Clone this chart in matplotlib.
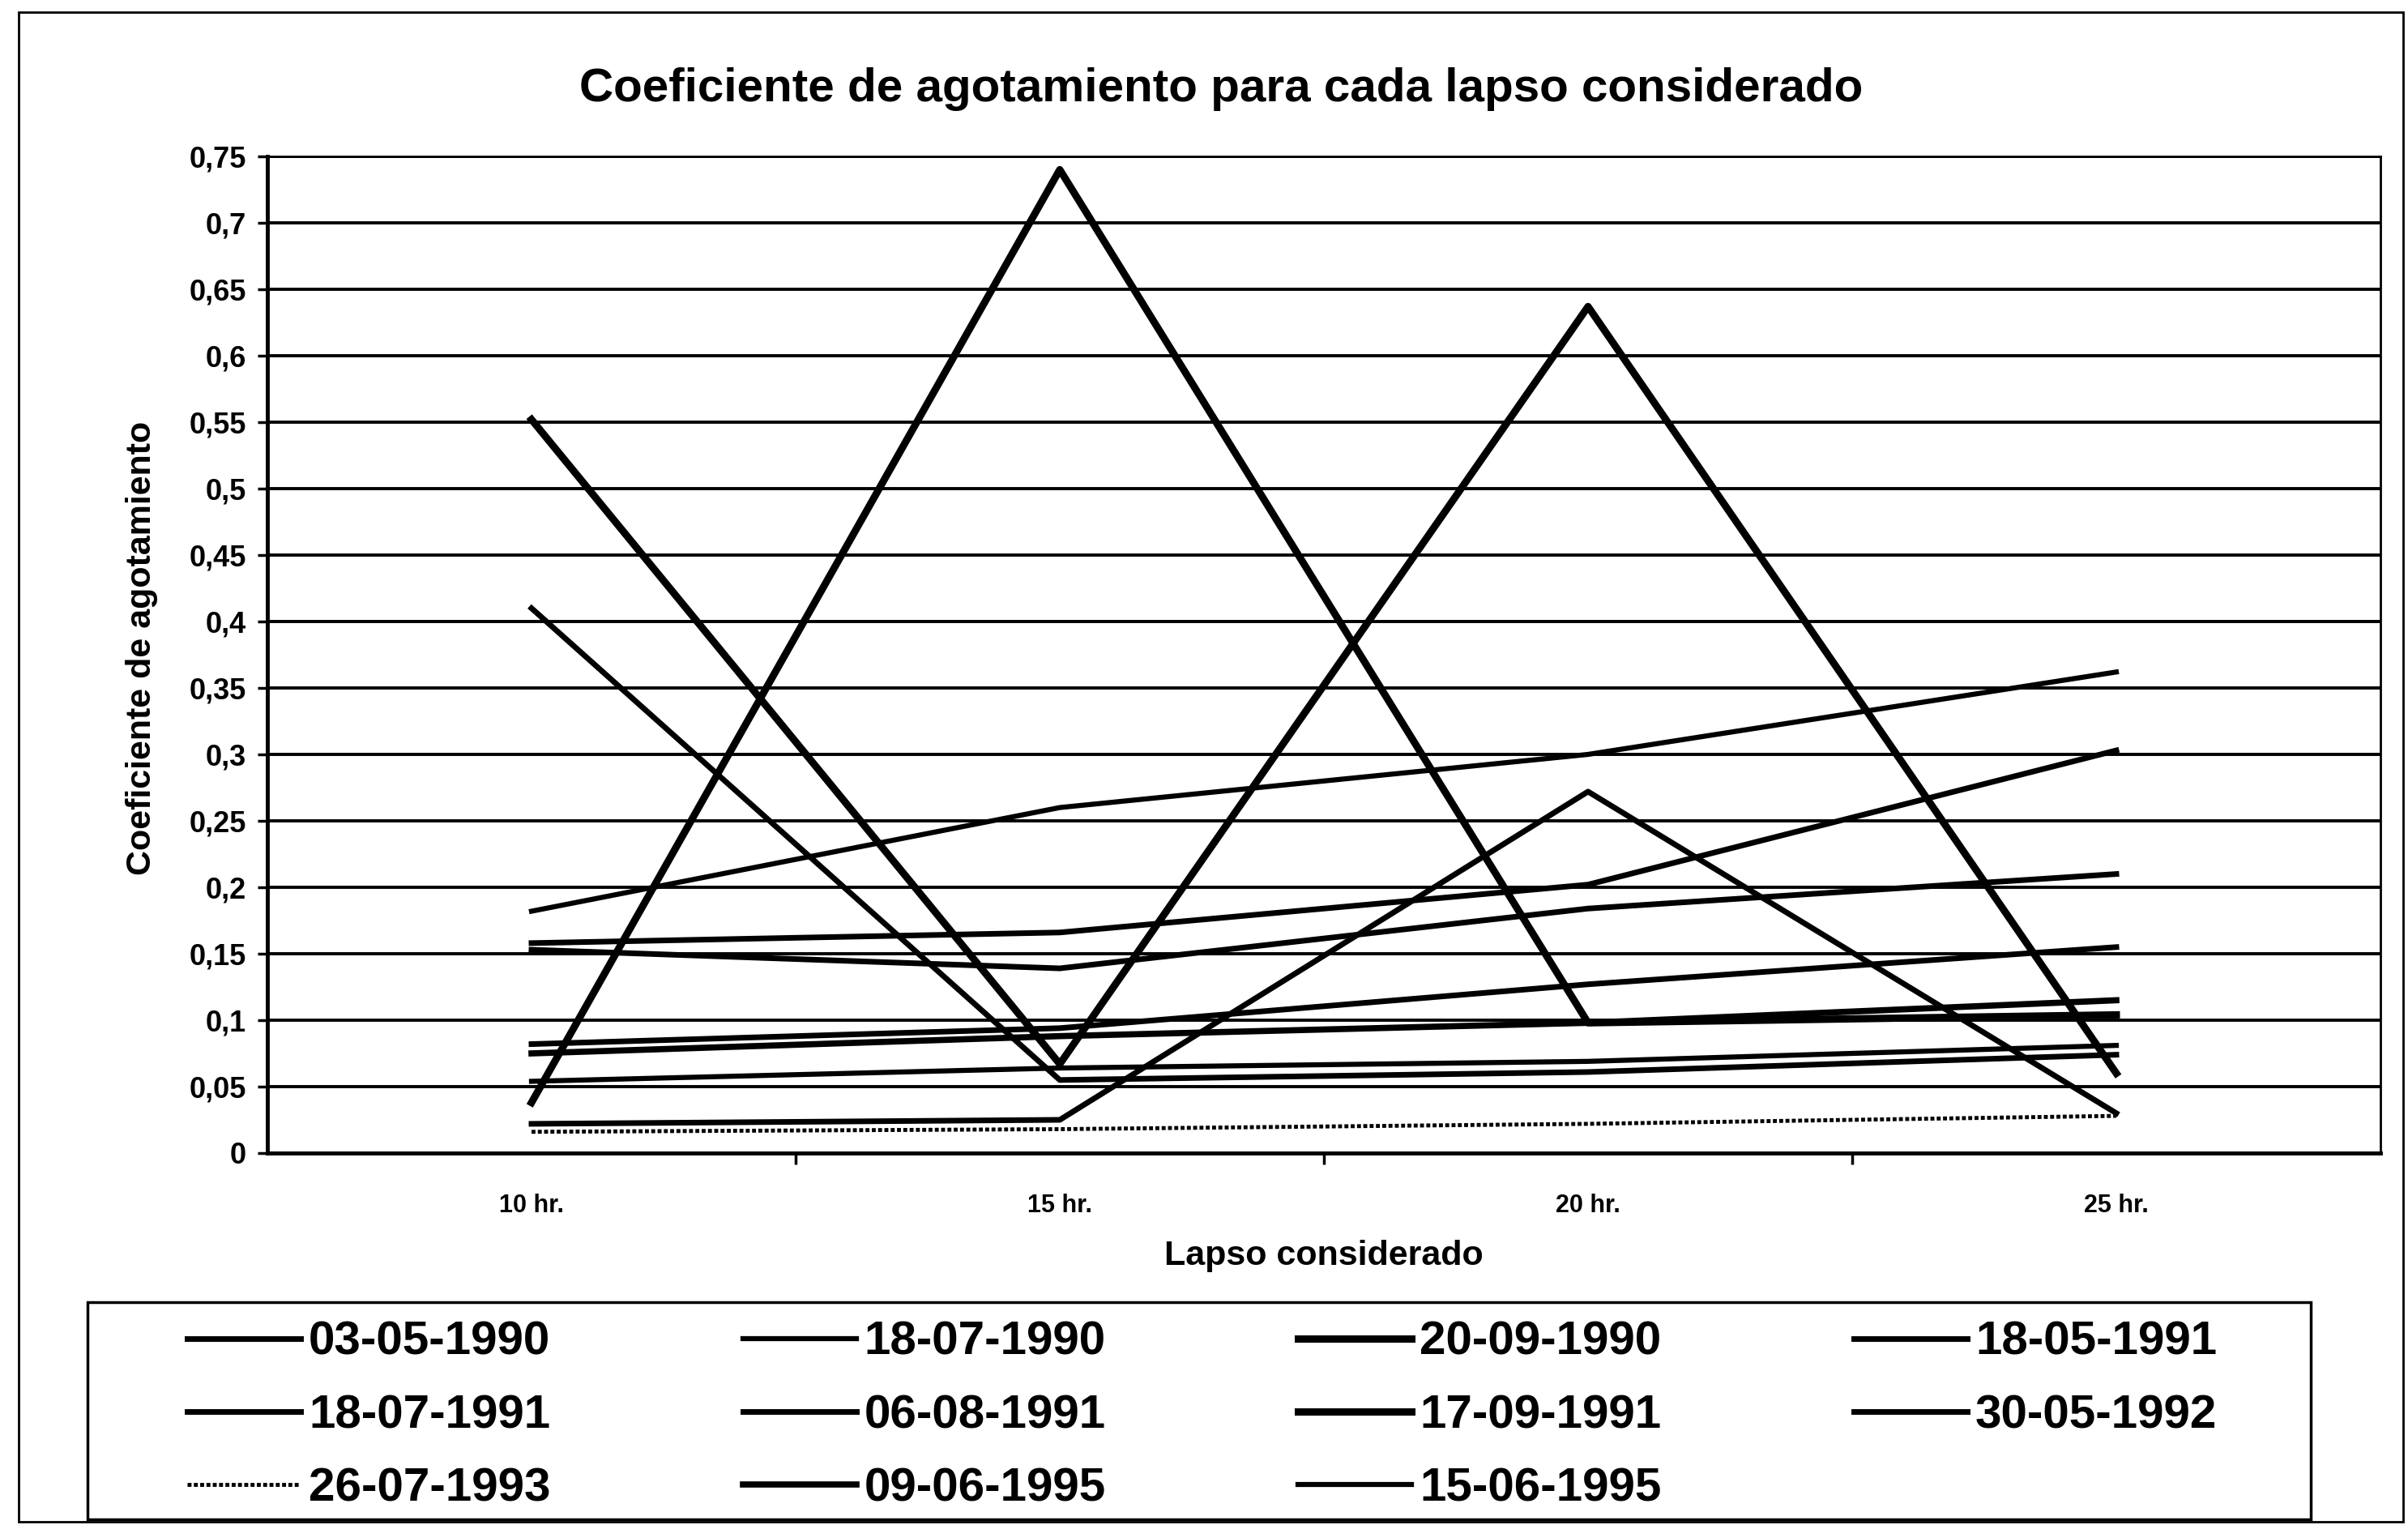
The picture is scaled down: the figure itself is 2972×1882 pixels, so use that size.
import matplotlib.pyplot as plt
from matplotlib.patches import Rectangle

plt.rcParams['font.family'] = ['Liberation Sans', 'DejaVu Sans']
plt.rcParams['font.weight'] = 'bold'

# categories and series
lapsos = ['10 hr.', '15 hr.', '20 hr.', '25 hr.']
fechas = ['03-05-1990', '18-07-1990', '20-09-1990', '18-05-1991', '18-07-1991', '06-08-1991',
          '17-09-1991', '30-05-1992', '26-07-1993', '09-06-1995', '15-06-1995']

s_03_05_1990 = [0.41, 0.055, 0.061, 0.074]
s_18_07_1990 = [0.182, 0.26, 0.30, 0.362]
s_20_09_1990 = [0.038, 0.74, 0.098, 0.104]
s_18_05_1991 = [0.022, 0.025, 0.272, 0.03]
s_18_07_1991 = [0.158, 0.166, 0.202, 0.303]
s_06_08_1991 = [0.153, 0.139, 0.184, 0.21]
s_17_09_1991 = [0.552, 0.067, 0.637, 0.06]
s_30_05_1992 = [0.082, 0.094, 0.127, 0.155]
s_26_07_1993 = [0.016, 0.018, 0.022, 0.028]
s_09_06_1995 = [0.075, 0.088, 0.098, 0.115]
s_15_06_1995 = [0.054, 0.064, 0.069, 0.081]

y_ticks = [i * 0.05 for i in range(16)]

series = [s_03_05_1990, s_18_07_1990, s_20_09_1990, s_18_05_1991, s_18_07_1991, s_06_08_1991,
          s_17_09_1991, s_30_05_1992, s_26_07_1993, s_09_06_1995, s_15_06_1995]
widths = [5, 4.5, 6.5, 5, 5, 5, 6.5, 5, 3.5, 5.5, 4.5]
styles = ['-', '-', '-', '-', '-', '-', '-', '-', (0, (1, 0.6)), '-', '-']

W, H = 2972, 1882
fig = plt.figure(figsize=(W / 100, H / 100), dpi=100)
ax = fig.add_axes([330 / W, 1 - 1423 / H, (2938 - 330) / W, (1423 - 193) / H])

x = range(len(lapsos))
for vals, lab, lw, ls in zip(series, fechas, widths, styles):
    ax.plot(x, vals, color='black', lw=lw, ls=ls, label=lab)

ax.set_xlim(-0.5, 3.5)
ax.set_ylim(0, 0.75)
ax.set_yticks(y_ticks)
ax.set_yticklabels([f'{round(v, 2):g}'.replace('.', ',') for v in y_ticks])
ax.yaxis.grid(True, color='black', lw=2.8)
ax.set_axisbelow(True)

ax.set_xticks(list(x))
ax.set_xticklabels(lapsos)
ax.set_xticks([0.5, 1.5, 2.5], minor=True)
ax.tick_params(axis='x', which='major', length=0, pad=36, labelsize=22)
ax.tick_params(axis='x', which='minor', length=10, width=2.5, direction='out')
ax.tick_params(axis='y', length=9, width=2.5, pad=10, labelsize=26)
for side in ['left', 'bottom']:
    ax.spines[side].set_linewidth(3.5)
for side in ['top', 'right']:
    ax.spines[side].set_linewidth(2)

fig.text(1507 / W, 1 - 110 / H, 'Coeficiente de agotamiento para cada lapso considerado',
         fontsize=42, ha='center', va='center')
fig.text(175 / W, 1 - 800 / H, 'Coeficiente de agotamiento', rotation=90,
         fontsize=31, ha='center', va='center')
fig.text(1634 / W, 1 - 1550 / H, 'Lapso considerado', fontsize=31, ha='center', va='center')

# legend: matplotlib fills by column, reference reads by row
order = [0, 4, 8, 1, 5, 9, 2, 6, 10, 3, 7]
handles, labels = ax.get_legend_handles_labels()
fig.legend([handles[i] for i in order], [labels[i] for i in order], ncol=4,
           loc='upper left', bbox_to_anchor=(231 / W, 1 - 1630 / H), frameon=False,
           fontsize=42, handlelength=2.4, handletextpad=0.17, columnspacing=4.07,
           labelspacing=0.62, borderpad=0, borderaxespad=0)

fig.add_artist(Rectangle((108 / W, 1 - 1875 / H), 2744 / W, 268 / H,
                         transform=fig.transFigure, fill=False, lw=2.5, ec='black'))
fig.add_artist(Rectangle((23 / W, 1 - 1878 / H), (2966 - 23) / W, (1878 - 15) / H,
                         transform=fig.transFigure, fill=False, lw=2, ec='black'))

fig.savefig('out.png', dpi=100)
